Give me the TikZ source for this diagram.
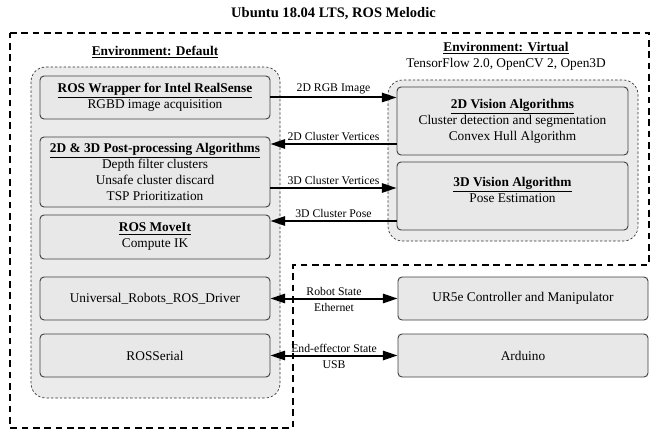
\documentclass[tikz,border=0pt]{standalone}
\usepackage{fontspec}
\setmainfont{Liberation Serif}
\usetikzlibrary{arrows.meta}
\begin{document}
\begin{tikzpicture}[x=0.75pt,y=-0.75pt,
  box/.style={draw=black!75, line width=0.7pt, fill=gray!18, rounded corners=3pt, align=center,
    font=\fontsize{10}{12}\selectfont, inner sep=0pt, minimum width=172.5pt, minimum height=32.25pt},
  env/.style={draw=black!80, line width=0.5pt, dash pattern=on 1.8pt off 1.5pt, fill=gray!16, rounded corners=11pt},
  outer/.style={draw=black, line width=1.2pt, dash pattern=on 5pt off 3.5pt},
  conn/.style={line width=1.5pt, -{Triangle[length=11pt,width=7pt]}},
  dconn/.style={line width=1.5pt, {Triangle[length=11pt,width=7pt]}-{Triangle[length=11pt,width=7pt]}},
  lbl/.style={font=\fontsize{8.8}{10}\selectfont, inner sep=1.5pt},
  lblb/.style={font=\fontsize{8.8}{10}\selectfont, inner sep=3pt},
  head/.style={font=\fontsize{10}{12}\selectfont\bfseries, inner sep=1pt}]

\useasboundingbox (0,0) rectangle (656,438);

% outer dashed region
\draw[outer] (10,33) -- (649,33) -- (649,265) -- (293,265) -- (293,428) -- (10,428) -- cycle;

% title
\node[font=\fontsize{10.9}{13}\selectfont\bfseries] (title) at (333.5,14) {Ubuntu 18.04 LTS, ROS Melodic};

% environments
\node[head] (envdefhead) at (155,52) {\underline{Environment: Default}};
\draw[env] (31,67) rectangle (280,398);

\node[head] (envvirhead) at (506,48) {\underline{Environment: Virtual}};
\node[font=\fontsize{10}{12}\selectfont, inner sep=1pt] (envvirsub) at (506,64) {TensorFlow 2.0, OpenCV 2, Open3D};
\draw[env] (388,80) rectangle (638,241);

% left boxes
\node[box] (box1) at (155,97.5) {\textbf{\underline{ROS Wrapper for Intel RealSense}}\\RGBD image acquisition};
\node[box, minimum height=52.5pt] (box2) at (155,172) {\textbf{\underline{2D \& 3D Post-processing Algorithms}}\\Depth filter clusters\\Unsafe cluster discard\\TSP Prioritization};
\node[box, minimum height=33pt] (box3) at (155,237) {\textbf{\underline{ROS MoveIt}}\\Compute IK};
\node[box] (box4) at (155,298.5) {Universal\_Robots\_ROS\_Driver};
\node[box] (box5) at (155,355.5) {ROSSerial};

% virtual boxes
\node[box, minimum width=173.25pt, minimum height=51pt] (vis2) at (512.5,121) {\textbf{\underline{2D Vision Algorithms}}\\Cluster detection and segmentation\\Convex Hull Algorithm};
\node[box, minimum width=173.25pt, minimum height=51pt, text depth=9pt] (vis3) at (512.5,196) {\textbf{\underline{3D Vision Algorithm}}\\Pose Estimation};

% hardware boxes
\node[box, minimum width=187.5pt] (ur) at (523,298.5) {UR5e Controller and Manipulator};
\node[box, minimum width=187.5pt] (ard) at (523,355.5) {Arduino};

% connectors
\draw[conn] (box1.east) -- (box1.east -| vis2.west)
  node[lbl, above, midway] {2D RGB Image};

\coordinate (c2) at ([yshift=-17.25pt]vis2.west);
\draw[conn] (c2) -- (c2 -| box2.east)
  node[lbl, above, midway] {2D Cluster Vertices};

\coordinate (c3) at ([yshift=-12pt]box2.east);
\draw[conn] (c3) -- (c3 -| vis3.west)
  node[lbl, above, midway] {3D Cluster Vertices};

\coordinate (c4) at ([yshift=-18.75pt]vis3.west);
\draw[conn] (c4) -- (c4 -| box3.east)
  node[lbl, above, midway] {3D Cluster Pose};

\draw[dconn] (box4.east) -- (ur.west)
  node[lbl, above, midway] {Robot State}
  node[lblb, below, midway] {Ethernet};

\draw[dconn] (box5.east) -- (ard.west)
  node[lbl, above, midway] {End-effector State}
  node[lblb, below, midway] {USB};

\end{tikzpicture}
\end{document}
